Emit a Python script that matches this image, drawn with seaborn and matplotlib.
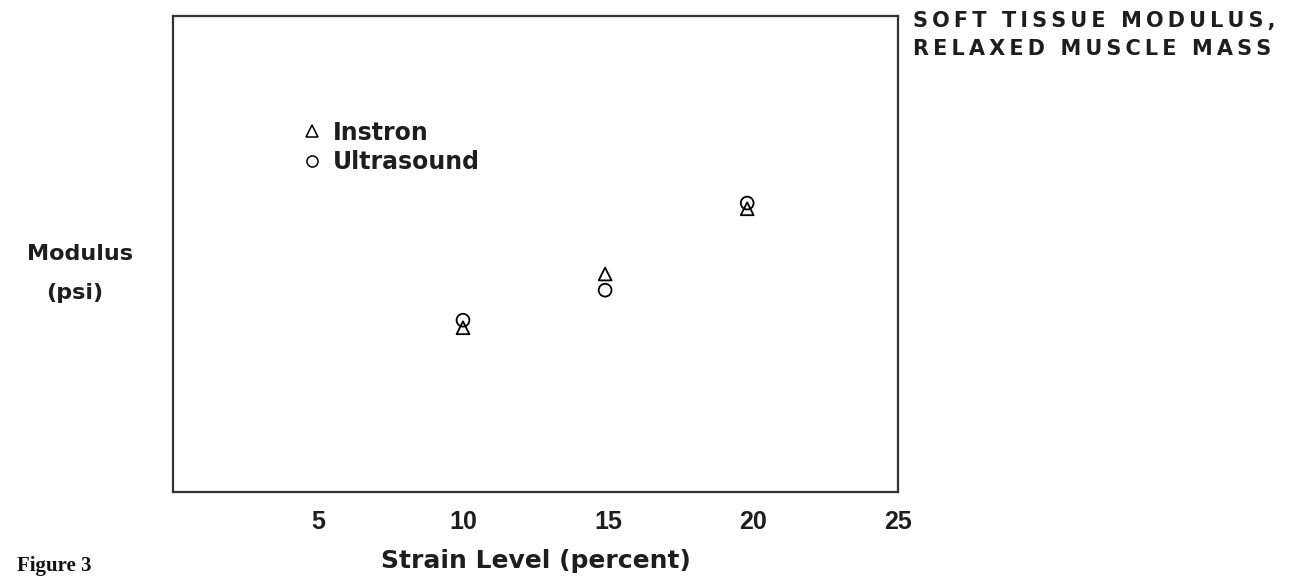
import matplotlib
matplotlib.use("Agg")
import matplotlib.pyplot as plt
from matplotlib.lines import Line2D
import seaborn as sns
import pandas as pd

# ---- data (y axis has no scale, arbitrary units) ----
strain_levels = [10, 14.9, 19.8]
instron_modulus = [34.5, 45.8, 59.5]
ultrasound_modulus = [36.1, 42.4, 60.7]
xtick_values = [5, 10, 15, 20]
xtick_labels = ["5", "10", "15", "20"]
extra_xtick_value = 25
extra_xtick_label = "25"
series_names = ["Instron", "Ultrasound"]
series_markers = ["^", "o"]
title_lines = ["SOFT TISSUE MODULUS,", "RELAXED MUSCLE MASS"]

df = pd.DataFrame({
    "strain": strain_levels * 2,
    "modulus": instron_modulus + ultrasound_modulus,
    "method": [series_names[0]] * 3 + [series_names[1]] * 3,
})

sns.set_style("white")
plt.rcParams["font.family"] = ["DejaVu Sans"]
INK = "#1e1e1e"
TICKFONT = ["Liberation Sans", "DejaVu Sans"]
TICKPAD = 13


def tracked(s):
    """Widen letter spacing with thin spaces (the title is typed with wide tracking)."""
    words = s.split(" ")
    return "\u2009 \u2009".join("\u2009".join(w) for w in words)


fig = plt.figure(figsize=(12.97, 5.79), dpi=100)
ax = fig.add_axes([173 / 1297, 1 - 492 / 579, 725 / 1297, 476 / 579])

for name, mk in zip(series_names, series_markers):
    sub = df[df["method"] == name]
    sns.scatterplot(data=sub, x="strain", y="modulus", marker=mk, s=85,
                    facecolors="none", edgecolors="black", linewidth=1.3,
                    ax=ax, legend=False, zorder=3)
for coll in ax.collections:
    coll.set_facecolor("none")

ax.set_xlim(0, 25)
ax.set_ylim(0, 100)
ax.set_xticks(xtick_values)
ax.set_xticklabels(xtick_labels, fontsize=18, color=INK, family=TICKFONT,
                   fontweight="bold")
ax.set_yticks([])
ax.tick_params(axis="x", direction="in", length=5, width=1.2, pad=TICKPAD, colors=INK)
ax.set_xlabel("Strain Level (percent)", fontsize=18, color=INK, labelpad=11,
              fontweight="bold")
ax.set_ylabel("")
for sp in ax.spines.values():
    sp.set_visible(True)
    sp.set_linewidth(1.6)
    sp.set_color("#333333")

# tick label for 25 that sits at the axes' right edge (same offset as the others)
ax.annotate(extra_xtick_label, xy=(extra_xtick_value, 0),
            xycoords=("data", "axes fraction"), xytext=(0, -TICKPAD),
            textcoords="offset points", ha="center", va="top", fontsize=18,
            color=INK, family=TICKFONT, fontweight="bold", annotation_clip=False)

# legend
handles = [Line2D([], [], marker=m, linestyle="none", markerfacecolor="none",
                  markeredgecolor="black", markeredgewidth=1.1, markersize=8)
           for m in series_markers]
leg = ax.legend(handles, series_names, loc="upper left", bbox_to_anchor=(0.1786, 0.78),
                frameon=False, handlelength=0.8, handletextpad=0.49, labelspacing=0.22,
                borderpad=0, borderaxespad=0,
                prop={"family": "DejaVu Sans", "weight": "bold", "size": 17})
for t in leg.get_texts():
    t.set_color(INK)

# y-axis label (two lines, left of the frame)
fig.text(80 / 1297, 1 - 254 / 579, "Modulus", fontsize=16, fontweight="bold",
         ha="center", va="center", color=INK)
fig.text(75 / 1297, 1 - 293 / 579, "(psi)", fontsize=16, fontweight="bold",
         ha="center", va="center", color=INK)

# title on the right
fig.text(913 / 1297, 1 - 21 / 579, tracked(title_lines[0]), fontsize=15,
         fontweight="bold", ha="left", va="center", color=INK)
fig.text(913 / 1297, 1 - 49 / 579, tracked(title_lines[1]), fontsize=15,
         fontweight="bold", ha="left", va="center", color=INK)

# figure caption
fig.text(17 / 1297, 1 - 566 / 579, "Figure 3", fontsize=15, fontweight="bold",
         family=["Liberation Serif", "DejaVu Serif"], ha="left", va="center",
         color="#111111")

fig.savefig("out.png", dpi=100)
